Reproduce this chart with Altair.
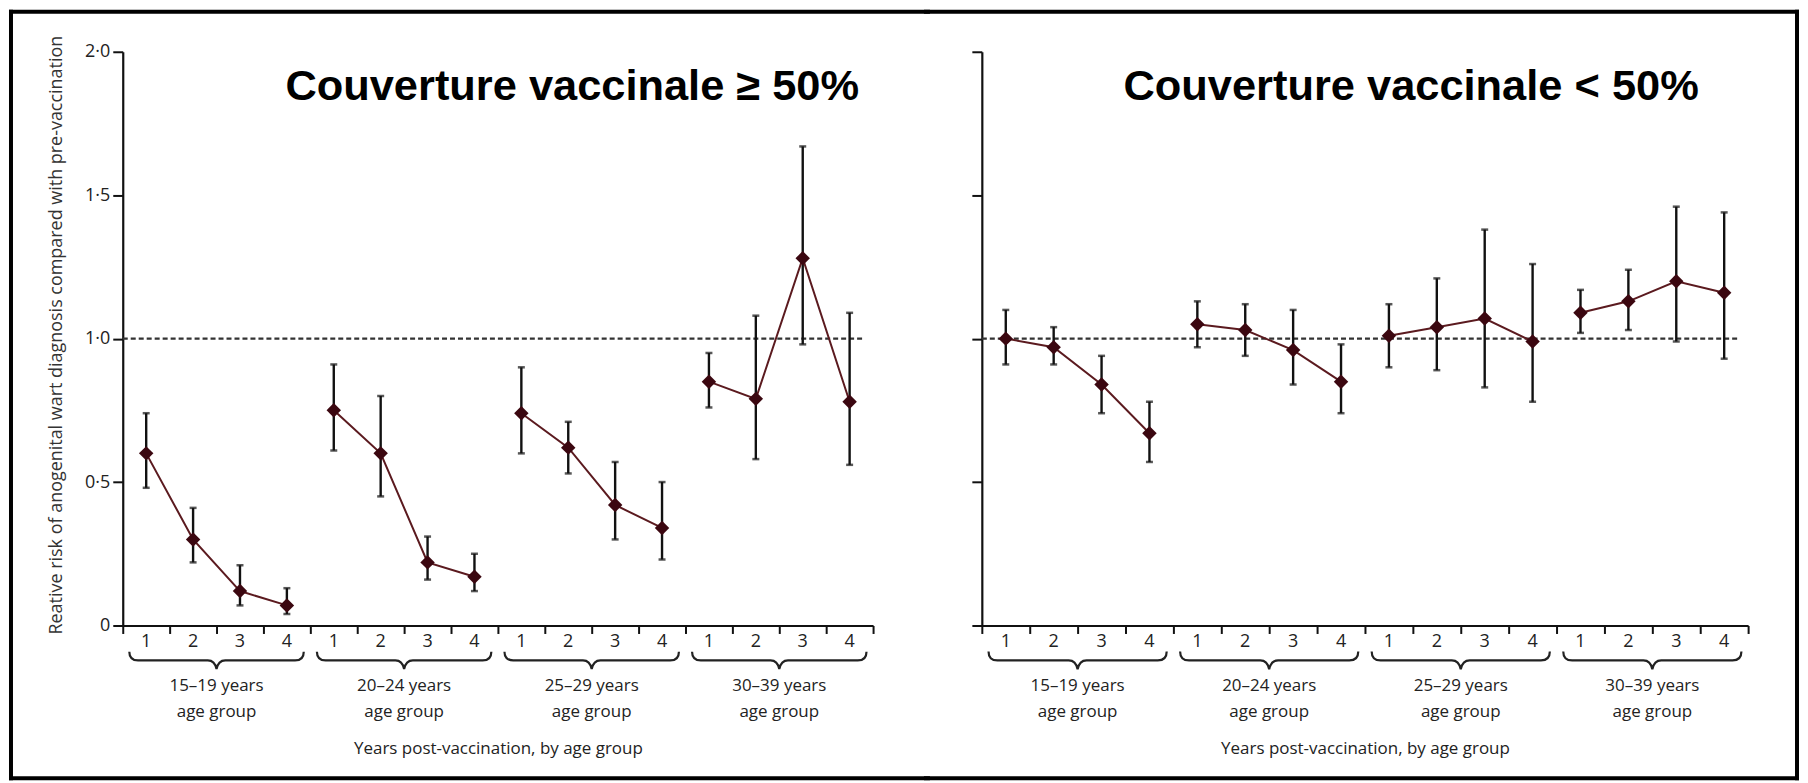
import altair as alt
import pandas as pd

# ---------------- data ----------------
age_groups = ["15–19 years", "20–24 years", "25–29 years", "30–39 years"]
age_line2 = "age group"
years = [1, 2, 3, 4]

# Panel 1: vaccine coverage >= 50%
high_rr = [0.60, 0.30, 0.12, 0.07, 0.75, 0.60, 0.22, 0.17, 0.74, 0.62, 0.42, 0.34, 0.85, 0.79, 1.28, 0.78]
high_lo = [0.48, 0.22, 0.07, 0.04, 0.61, 0.45, 0.16, 0.12, 0.60, 0.53, 0.30, 0.23, 0.76, 0.58, 0.98, 0.56]
high_hi = [0.74, 0.41, 0.21, 0.13, 0.91, 0.80, 0.31, 0.25, 0.90, 0.71, 0.57, 0.50, 0.95, 1.08, 1.67, 1.09]

# Panel 2: vaccine coverage < 50%
low_rr = [1.00, 0.97, 0.84, 0.67, 1.05, 1.03, 0.96, 0.85, 1.01, 1.04, 1.07, 0.99, 1.09, 1.13, 1.20, 1.16]
low_lo = [0.91, 0.91, 0.74, 0.57, 0.97, 0.94, 0.84, 0.74, 0.90, 0.89, 0.83, 0.78, 1.02, 1.03, 0.99, 0.93]
low_hi = [1.10, 1.04, 0.94, 0.78, 1.13, 1.12, 1.10, 0.98, 1.12, 1.21, 1.38, 1.26, 1.17, 1.24, 1.46, 1.44]

y_ticks = [0, 0.5, 1.0, 1.5, 2.0]
reference_rr = 1.0
panel_titles = ["Couverture vaccinale ≥ 50%", "Couverture vaccinale < 50%"]
y_title = "Reative risk of anogenital wart diagnosis compared with pre-vaccination"
x_title = "Years post-vaccination, by age group"

# ---------------- style ----------------
FONT = "Open Sans"
TFONT = "Liberation Sans"
INK = "#222222"
LINE_COL = "#5b1a1f"
PT_COL = "#3b0710"
H = 575
BRACE_PATH = ("M -1 -0.1 Q -1 0 -0.9 0 L -0.1 0 Q -0.02 0 0 0.1 "
              "Q 0.02 0 0.1 0 L 0.9 0 Q 1 0 1 -0.1")


def panel(rr, lo, hi, W, title, title_x, first):
    n_years = len(years)
    n = len(age_groups) * n_years
    rows = []
    for gi, g in enumerate(age_groups):
        for yi, yr in enumerate(years):
            i = gi * n_years + yi
            rows.append(dict(group=g, year=str(yr), pos=i + 0.5,
                             rr=rr[i], lo=lo[i], hi=hi[i]))
    df = pd.DataFrame(rows)
    gdf = pd.DataFrame([dict(label=g + "\n" + age_line2,
                             center=gi * n_years + n_years / 2)
                        for gi, g in enumerate(age_groups)])
    one = pd.DataFrame({"ref": [reference_rr], "t": [title]})

    xs = alt.Scale(domain=[0, n], nice=False, zero=False)
    xaxis = alt.Axis(values=list(range(n + 1)), labels=False, tickSize=8,
                     tickWidth=2, tickColor="#111", domainColor="#111",
                     domainWidth=2.2, grid=False, title=x_title, titleFont=FONT,
                     titleFontSize=17, titleFontWeight="normal", titleColor=INK,
                     titleY=128, titleBaseline="alphabetic")

    ys = alt.Scale(domain=[0, 2], nice=False)
    yargs = dict(values=y_ticks, tickSize=10, tickWidth=2, tickColor="#111",
                 domainColor="#111", domainWidth=2.2, grid=False,
                 labelFont=FONT, labelFontSize=18, labelColor=INK,
                 labelPadding=3)
    if first:
        yargs.update(
            labelExpr="datum.value == 0 ? '0' : replace(format(datum.value, '.1f'), '.', '·')",
            title=y_title, titleFont=FONT, titleFontSize=18,
            titleFontWeight="normal", titleColor="#333", titleX=-66,
            titleY=H / 2 - 4, titleAngle=270, titleAlign="center",
            titleBaseline="middle")
    else:
        yargs.update(labels=False, title="")
    yaxis = alt.Axis(**yargs)

    def X(f):
        return alt.X(f, type="quantitative", scale=xs, axis=xaxis)

    def Y(f):
        return alt.Y(f, type="quantitative", scale=ys, axis=yaxis)

    base = alt.Chart(df)

    ref = alt.Chart(one).mark_rule(strokeDash=[5, 3], strokeWidth=2.4, color="#333").encode(
        y=Y("ref"), x=alt.value(0), x2=alt.value(W - 8))
    bars = base.mark_rule(color="#111", strokeWidth=2.4).encode(
        x=X("pos"), y=Y("lo"), y2=alt.Y2("hi"))
    cap_lo = base.mark_tick(orient="horizontal", size=7, thickness=2.5, color="#111").encode(
        x=X("pos"), y=Y("lo"))
    cap_hi = base.mark_tick(orient="horizontal", size=7, thickness=2.5, color="#111").encode(
        x=X("pos"), y=Y("hi"))
    line = base.mark_line(color=LINE_COL, strokeWidth=2).encode(
        x=X("pos"), y=Y("rr"), detail="group:N")
    pts = base.mark_point(shape="diamond", filled=True, size=210, color=PT_COL,
                          opacity=1).encode(x=X("pos"), y=Y("rr"))

    ylabels = base.mark_text(font=FONT, fontSize=18, color=INK, baseline="middle").encode(
        x=X("pos"), y=alt.value(H + 17), text="year:N")
    brace_w = W / len(age_groups) * 0.93
    braces = alt.Chart(gdf).mark_point(shape=BRACE_PATH, filled=False, strokeWidth=2.2,
                                        color="#222", opacity=1,
                                        size=brace_w * brace_w).encode(
        x=X("center"), y=alt.value(H + 35))
    glabels = alt.Chart(gdf).mark_text(font=FONT, fontSize=17, color=INK,
                                       baseline="alphabetic", lineBreak="\n",
                                       lineHeight=26).encode(
        x=X("center"), y=alt.value(H + 66), text="label:N")

    ttl = alt.Chart(one).mark_text(font=TFONT, fontSize=43.5, fontWeight="bold",
                                   color="black", align="left",
                                   baseline="alphabetic").encode(
        x=alt.value(title_x), y=alt.value(48), text="t:N")

    fr = dict(color="black", strokeWidth=4, strokeCap="square")
    fdata = alt.Chart(one)
    if first:
        frame = [
            fdata.mark_rule(**fr).encode(x=alt.value(-112), y=alt.value(-40), y2=alt.value(728)),
            fdata.mark_rule(**fr).encode(x=alt.value(-112), x2=alt.value(W + 55), y=alt.value(-40)),
            fdata.mark_rule(**fr).encode(x=alt.value(-112), x2=alt.value(W + 55), y=alt.value(728)),
        ]
    else:
        frame = [
            fdata.mark_rule(**fr).encode(x=alt.value(W + 49), y=alt.value(-40), y2=alt.value(728)),
            fdata.mark_rule(**fr).encode(x=alt.value(-56), x2=alt.value(W + 49), y=alt.value(-40)),
            fdata.mark_rule(**fr).encode(x=alt.value(-56), x2=alt.value(W + 49), y=alt.value(728)),
        ]

    return alt.layer(ref, bars, cap_lo, cap_hi, line, pts, ylabels, braces,
                     glabels, ttl, *frame).properties(width=W, height=H)


left = panel(high_rr, high_lo, high_hi, 752, panel_titles[0], 163, True)
right = panel(low_rr, low_lo, low_hi, 768, panel_titles[1], 142, False)

chart = alt.hconcat(left, right, spacing=109, bounds="flush").properties(
    padding=0, background="white"
).configure_view(stroke=None)

chart.save("out.html", embed_options={"renderer": "svg", "actions": False})
